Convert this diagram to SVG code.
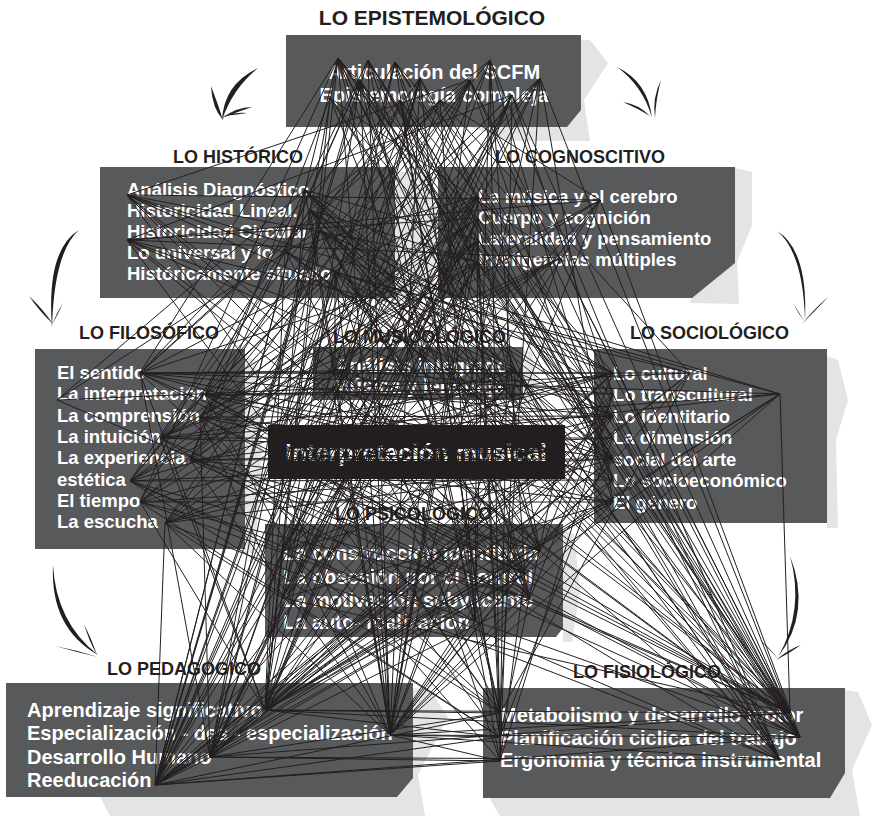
<svg xmlns="http://www.w3.org/2000/svg" width="872" height="816" viewBox="0 0 872 816">
  <style>
    .shadow { fill: #e3e4e5; }
    .box { fill: #58595b; }
    .core { fill: #231f20; }
    .title { font-family: "Liberation Sans", Arial, sans-serif; font-weight: bold; font-size: 18px; fill: #231f20; }
    .title-main { font-family: "Liberation Sans", Arial, sans-serif; font-weight: bold; font-size: 21px; fill: #231f20; }
    .item { font-family: "Liberation Sans", Arial, sans-serif; font-weight: bold; font-size: 18.5px; fill: #ffffff; }
    .item20 { font-family: "Liberation Sans", Arial, sans-serif; font-weight: bold; font-size: 20px; fill: #ffffff; }
    .core-label { font-family: "Liberation Sans", Arial, sans-serif; font-weight: bold; font-size: 24.5px; fill: #ffffff; }
    .brush { fill: #231f20; }
    .links path { fill: none; stroke: #231f20; stroke-width: 1; }
  </style>

  <rect width="872" height="816" fill="#ffffff"/>

  <!-- paper shadows behind the panels -->
  <g id="shadows">
    <polygon class="shadow" points="470,40 590,40 608,63 584,100 590,141 510,141 470,127"/>
    <polygon class="shadow" points="395,172 430,172 446,230 430,300 395,300"/>
    <polygon class="shadow" points="735,168 752,172 752,225 737,262 739,304 690,303"/>
    <polygon class="shadow" points="243,355 256,360 262,450 255,553 243,553"/>
    <polygon class="shadow" points="523,350 532,352 536,380 530,404 523,404"/>
    <polygon class="shadow" points="827,356 838,360 848,400 836,440 838,528 827,528"/>
    <polygon class="shadow" points="563,530 574,534 580,590 572,642 563,642"/>
    <polygon class="shadow" points="413,688 430,690 448,717 418,775 425,816 110,816 100,797"/>
    <polygon class="shadow" points="845,690 858,692 872,725 852,770 860,816 500,816 490,799"/>
  </g>

  <!-- LO EPISTEMOLÓGICO -->
  <g id="epistemologico">
    <text class="title-main" x="432" y="25" text-anchor="middle">LO EPISTEMOLÓGICO</text>
    <polygon class="box" points="286,35 581,35 581,110 567,127 286,127"/>
    <text class="item20" x="434" y="79" text-anchor="middle">Articulación del SCFM</text>
    <text class="item20" x="434" y="102" text-anchor="middle">Epistemología compleja</text>
  </g>

  <!-- LO HISTÓRICO -->
  <g id="historico">
    <text class="title" x="173" y="163">LO HISTÓRICO</text>
    <rect class="box" x="100" y="167" width="295" height="131"/>
    <text class="item" x="127" y="196">Análisis Diagnóstico.</text>
    <text class="item" x="127" y="217">Historicidad Lineal.</text>
    <text class="item" x="127" y="238">Historicidad Circular</text>
    <text class="item" x="127" y="259">Lo universal y lo</text>
    <text class="item" x="127" y="280">Históricamente situado</text>
  </g>

  <!-- LO COGNOSCITIVO -->
  <g id="cognoscitivo">
    <text class="title" x="495" y="163">LO COGNOSCITIVO</text>
    <polygon class="box" points="438,167 735,167 735,263 692,298 438,298"/>
    <text class="item" x="478" y="203">La música y el cerebro</text>
    <text class="item" x="478" y="224">Cuerpo y cognición</text>
    <text class="item" x="478" y="245">Lateralidad y pensamiento</text>
    <text class="item" x="478" y="266">Inteligencias múltiples</text>
  </g>

  <!-- LO FILOSÓFICO -->
  <g id="filosofico">
    <text class="title" x="79" y="339">LO FILOSÓFICO</text>
    <rect class="box" x="35" y="349" width="210" height="200"/>
    <text class="item" x="57" y="379">El sentido</text>
    <text class="item" x="57" y="400">La interpretación</text>
    <text class="item" x="57" y="422">La comprensión</text>
    <text class="item" x="57" y="443">La intuición</text>
    <text class="item" x="57" y="464">La experiencia</text>
    <text class="item" x="57" y="486">estética</text>
    <text class="item" x="57" y="507">El tiempo</text>
    <text class="item" x="57" y="528">La escucha</text>
  </g>

  <!-- LO MUSICOLÓGICO -->
  <g id="musicologico">
    <text class="title" x="333" y="343">LO MUSICOLÓGICO</text>
    <rect class="box" x="313" y="347" width="210" height="53"/>
    <text class="item20" x="335" y="373">Análisis integrado</text>
    <text class="item20" x="333" y="393">Música y lenguaje</text>
  </g>

  <!-- LO SOCIOLÓGICO -->
  <g id="sociologico">
    <text class="title" x="630" y="339">LO SOCIOLÓGICO</text>
    <rect class="box" x="594" y="349" width="233" height="174"/>
    <text class="item" x="613" y="380">Lo cultural</text>
    <text class="item" x="613" y="401">Lo transcultural</text>
    <text class="item" x="613" y="423">Lo identitario</text>
    <text class="item" x="613" y="444">La dimensión</text>
    <text class="item" x="613" y="466">social del arte</text>
    <text class="item" x="613" y="487">Lo socioeconómico</text>
    <text class="item" x="613" y="509">El género</text>
  </g>

  <!-- core node -->
  <g id="interpretacion">
    <rect class="core" x="268" y="425" width="297" height="54"/>
    <text class="core-label" x="416" y="461" text-anchor="middle">Interpretación musical</text>
  </g>

  <!-- LO PSICOLÓGICO -->
  <g id="psicologico">
    <text class="title" x="335" y="520">LO PSICOLÓGICO</text>
    <polygon class="box" points="265,524 563,524 563,628 556,637 265,637"/>
    <text class="item20" x="283" y="560">La construcción identitaria</text>
    <text class="item20" x="283" y="584">La obsesión por el control</text>
    <text class="item20" x="283" y="607">La motivación subyacente</text>
    <text class="item20" x="283" y="629">La auto- realización</text>
  </g>

  <!-- LO PEDAGOGICO -->
  <g id="pedagogico">
    <text class="title" x="107" y="675">LO PEDAGOGICO</text>
    <polygon class="box" points="6,683 413,683 413,778 397,797 6,797"/>
    <text class="item20" x="27" y="717">Aprendizaje significativo</text>
    <text class="item20" x="27" y="740">Especialización - des - especialización</text>
    <text class="item20" x="27" y="764">Desarrollo Humano</text>
    <text class="item20" x="27" y="787">Reeducación</text>
  </g>

  <!-- LO FISIOLÓGICO -->
  <g id="fisiologico">
    <text class="title" x="573" y="678">LO FISIOLÓGICO</text>
    <polygon class="box" points="483,688 845,688 845,773 830,798 483,798"/>
    <text class="item20" x="500" y="722">Metabolismo y desarrollo motor</text>
    <text class="item20" x="500" y="745">Planificación ciclica del trabajo</text>
    <text class="item20" x="500" y="767">Ergonomia y técnica instrumental</text>
  </g>

  <!-- brush-stroke arrows between the outer panels -->
  <g id="arrows">
    <path class="brush" d="M258,68 Q224,84 222,120 Q233,88 258,68 Z"/>
    <path class="brush" d="M211,86 Q212,108 223,120 Q218,104 211,86 Z"/>
    <path class="brush" d="M222,118 Q237,107 252,107 Q237,112 222,118 Z"/>
    <path class="brush" d="M223,116 Q235,112 247,113 Q235,115 223,116 Z"/>

    <path class="brush" d="M617,67 Q648,82 652,118 Q643,86 617,67 Z"/>
    <path class="brush" d="M623,102 Q638,104 650,116 Q637,108 623,102 Z"/>
    <path class="brush" d="M661,80 Q652,98 655,118 Q656,98 661,80 Z"/>

    <path class="brush" d="M79,230 Q46,250 52,328 Q54,252 79,230 Z"/>
    <path class="brush" d="M29,296 Q40,312 53,324 Q42,308 29,296 Z"/>
    <path class="brush" d="M63,303 Q56,314 52,325 Q59,312 63,303 Z"/>

    <path class="brush" d="M777,231 Q808,250 805,320 Q803,252 777,231 Z"/>
    <path class="brush" d="M793,303 Q798,313 804,321 Q797,309 793,303 Z"/>
    <path class="brush" d="M828,297 Q814,312 802,324 Q815,308 828,297 Z"/>

    <path class="brush" d="M53,565 Q50,628 98,655 Q56,622 53,565 Z"/>
    <path class="brush" d="M55,646 Q76,650 98,657 Q76,652 55,646 Z"/>
    <path class="brush" d="M84,624 Q89,641 97,655 Q92,640 84,624 Z"/>

    <path class="brush" d="M790,556 Q812,612 778,657 Q805,610 790,556 Z"/>
    <path class="brush" d="M760,640 Q770,650 778,659 Q768,646 760,640 Z"/>
    <path class="brush" d="M801,645 Q790,653 776,660 Q789,649 801,645 Z"/>
  </g>

  <!-- web of relations between the items -->
  <g id="connectors" class="links">
    <path d="M155 785L338 58M155 785L368 60M155 785L320 230M155 785L478 218M155 785L478 262M155 785L335 369M155 785L560 452M155 785L613 416M155 785L613 480M155 785L540 551M155 785L530 598M155 785L500 713M155 785L500 737M155 785L500 761M155 785L165 523M155 785L335 272M155 785L800 737"/>
    <path d="M265 710L420 78M265 710L330 98M265 710L305 190M265 710L285 250M265 710L478 196M265 710L478 240M265 710L160 438M265 710L140 502M265 710L515 369M265 710L613 373M265 710L613 459M265 710L525 574M265 710L500 713M265 710L790 713M265 710L140 373"/>
    <path d="M390 735L368 60M390 735L470 80M390 735L310 210M390 735L478 218M390 735L600 200M390 735L205 395M390 735L190 460M390 735L333 389M390 735L270 452M390 735L613 394M390 735L613 502M390 735L475 621M390 735L500 737M390 735L800 737M390 735L500 761M390 735L780 760"/>
    <path d="M210 757L512 95M210 757L320 230M210 757L478 262M210 757L200 417M210 757L505 389M210 757L560 452M210 757L613 438M210 757L283 551M210 757L500 761M210 757L780 760"/>
    <path d="M500 713L338 58M500 713L127 195M500 713L140 373M500 713L130 481M500 713L335 369M500 713L300 430M500 713L478 240M500 713L690 373M500 713L283 551"/>
    <path d="M790 713L470 80M790 713L440 100M790 713L310 210M790 713L335 272M790 713L478 196M790 713L560 258M790 713L205 395M790 713L57 400M790 713L515 369M790 713L270 452M790 713L780 394M790 713L283 598"/>
    <path d="M800 737L420 78M800 737L285 250M800 737L600 200M800 737L190 460M800 737L333 389M800 737L540 475M800 737L613 373M800 737L613 480M800 737L530 598"/>
    <path d="M780 760L330 98M780 760L305 190M780 760L478 218M780 760L165 523M780 760L505 389M780 760L613 416M780 760L540 551"/>
    <path d="M500 737L512 95M500 737L127 240M500 737L478 262M500 737L140 502M500 737L560 452M500 737L613 438M500 737L283 598"/>
    <path d="M500 761L368 60M500 761L320 230M500 761L200 417M500 761L515 369M500 761L613 394M500 761L525 574"/>
    <path d="M140 373L338 58M140 373L470 80M140 373L478 196M140 373L613 373M140 373L690 373M140 373L515 369M140 373L560 452M140 373L540 551"/>
    <path d="M205 395L368 60M205 395L478 218M205 395L613 394M205 395L505 389M205 395L530 598M205 395L540 475"/>
    <path d="M200 417L420 78M200 417L478 240M200 417L613 416M200 417L525 574M200 417L335 272"/>
    <path d="M160 438L512 95M160 438L478 262M160 438L613 438M160 438L335 369M160 438L560 452M160 438L475 621"/>
    <path d="M190 460L330 98M190 460L600 200M190 460L613 459M190 460L780 394M190 460L540 551"/>
    <path d="M130 481L440 100M130 481L560 258M130 481L613 480M130 481L310 210M130 481L283 551"/>
    <path d="M140 502L338 58M140 502L478 196M140 502L613 502M140 502L333 389M140 502L530 598"/>
    <path d="M165 523L470 80M165 523L478 240M165 523L613 373M165 523L283 598M165 523L540 475"/>
    <path d="M305 190L613 373M305 190L613 438M305 190L478 240M305 190L540 551M305 190L560 452M305 190L505 389M305 190L57 400"/>
    <path d="M310 210L613 394M310 210L613 459M310 210L525 574M310 210L478 262M310 210L540 475"/>
    <path d="M320 230L613 416M320 230L613 480M320 230L530 598M320 230L515 369M320 230L57 400"/>
    <path d="M285 250L613 502M285 250L475 621M285 250L478 196M285 250L560 452"/>
    <path d="M335 272L690 373M335 272L780 394M335 272L540 551M335 272L335 369M335 272L540 475"/>
    <path d="M127 195L600 200M127 195L613 416M127 195L530 598M127 240L613 459M127 240L560 258M127 240L525 574"/>
    <path d="M478 196L200 417M478 196L190 460M478 196L283 551M478 196L270 452M478 196L335 369"/>
    <path d="M478 218L160 438M478 218L130 481M478 218L283 598M478 218L127 240"/>
    <path d="M478 240L140 502M478 240L283 551M478 240L270 452M478 240L333 389"/>
    <path d="M478 262L140 373M478 262L130 481M478 262L283 598M478 262L127 195M478 262L300 430"/>
    <path d="M600 200L200 417M600 200L283 551M600 200L127 240M560 258L160 438M560 258L165 523M560 258L333 389"/>
    <path d="M338 58L613 373M338 58L613 416M338 58L525 574M338 58L540 475M338 58L505 389"/>
    <path d="M368 60L613 459M368 60L540 551M368 60L560 452"/>
    <path d="M420 78L160 438M420 78L613 480M420 78L475 621M420 78L283 598M420 78L335 369"/>
    <path d="M470 80L130 481M470 80L613 502M470 80L283 551M470 80L127 195M470 80L270 452"/>
    <path d="M512 95L205 395M512 95L613 394M512 95L283 551M512 95L127 240M512 95L333 389"/>
    <path d="M330 98L613 438M330 98L530 598M330 98L560 452M330 98L560 258"/>
    <path d="M440 100L140 373M440 100L190 460M440 100L690 373M440 100L475 621M440 100L600 200"/>
    <path d="M335 369L613 394M335 369L613 459M335 369L540 551M335 369L530 598"/>
    <path d="M515 369L130 481M515 369L165 523M515 369L283 551M515 369L283 598M515 369L335 272"/>
    <path d="M333 389L613 480M333 389L525 574M505 389L205 395M505 389L283 598M505 389L613 502"/>
    <path d="M270 452L613 373M270 452L613 438M270 452L525 574M560 452L200 417M560 452L190 460"/>
    <path d="M300 430L613 416M300 430L540 551M540 475L140 502M540 475L140 373"/>
    <path d="M540 551L613 373M540 551L127 195M540 551L478 218M525 574L205 395M525 574L613 480M525 574L780 394"/>
    <path d="M530 598L130 481M530 598L613 394M530 598L310 210M475 621L690 373M475 621L478 196"/>
    <path d="M283 551L613 459M283 551L613 416M283 598L613 502M283 598L200 417"/>
    <path d="M690 373L57 400M690 373L127 240M780 394L140 373M780 394L127 195M780 394L160 438"/>
    <path d="M360 80L265 710M360 80L390 735M360 80L155 785M360 80L500 713M360 80L790 713M360 80L530 598M360 80L613 459M360 80L190 460M360 80L560 452M360 80L285 250"/>
    <path d="M395 62L210 757M395 62L500 737M395 62L800 737M395 62L540 551M395 62L283 598M395 62L613 394M395 62L140 502M395 62L515 369M395 62L560 258"/>
    <path d="M490 60L265 710M490 60L155 785M490 60L500 761M490 60L780 760M490 60L525 574M490 60L475 621M490 60L200 417M490 60L613 480M490 60L310 210"/>
    <path d="M540 78L390 735M540 78L210 757M540 78L500 713M540 78L790 713M540 78L283 551M540 78L165 523M540 78L613 502M540 78L270 452M540 78L335 272"/>
    <path d="M400 100L155 785M400 100L500 737M400 100L800 737M400 100L530 598M400 100L140 373M400 100L613 438M400 100L505 389M400 100L478 196"/>
    <path d="M790 713L338 58M790 713L368 60M790 713L305 190M790 713L127 195M790 713L140 373M790 713L160 438M790 713L335 369M790 713L300 430"/>
    <path d="M800 737L338 58M800 737L512 95M800 737L320 230M800 737L127 240M800 737L200 417M800 737L140 502M800 737L478 240M800 737L505 389"/>
    <path d="M780 760L368 60M780 760L470 80M780 760L310 210M780 760L130 481M780 760L478 262M780 760L270 452M780 760L515 369"/>
    <path d="M155 785L420 78M155 785L470 80M155 785L512 95M155 785L305 190M155 785L478 196M155 785L600 200M155 785L613 373M155 785L690 373M155 785L780 394M155 785L525 574M155 785L505 389M155 785L540 475"/>
    <path d="M265 710L338 58M265 710L512 95M265 710L478 218M265 710L600 200M265 710L613 416M265 710L613 502M265 710L780 394M265 710L540 551M265 710L283 551M265 710L560 452M265 710L500 737M265 710L800 737"/>
    <path d="M390 735L338 58M390 735L420 78M390 735L305 190M390 735L335 272M390 735L478 196M390 735L478 240M390 735L560 258M390 735L165 523M390 735L613 459M390 735L780 394M390 735L540 551M390 735L530 598M390 735L790 713"/>
    <path d="M210 757L338 58M210 757L440 100M210 757L335 272M210 757L478 196M210 757L478 218M210 757L140 373M210 757L613 394M210 757L690 373M210 757L525 574M210 757L500 713M210 757L790 713"/>
    <path d="M613 373L160 438M613 373L140 502M613 373L320 230M613 373L127 195M613 373L210 757"/>
    <path d="M613 416L140 373M613 416L165 523M613 416L310 210M613 416L127 240M613 416L390 735"/>
    <path d="M613 459L205 395M613 459L130 481M613 459L305 190M613 459L335 272M613 459L155 785"/>
    <path d="M613 502L200 417M613 502L190 460M613 502L285 250M613 502L265 710"/>
  </g>
</svg>
